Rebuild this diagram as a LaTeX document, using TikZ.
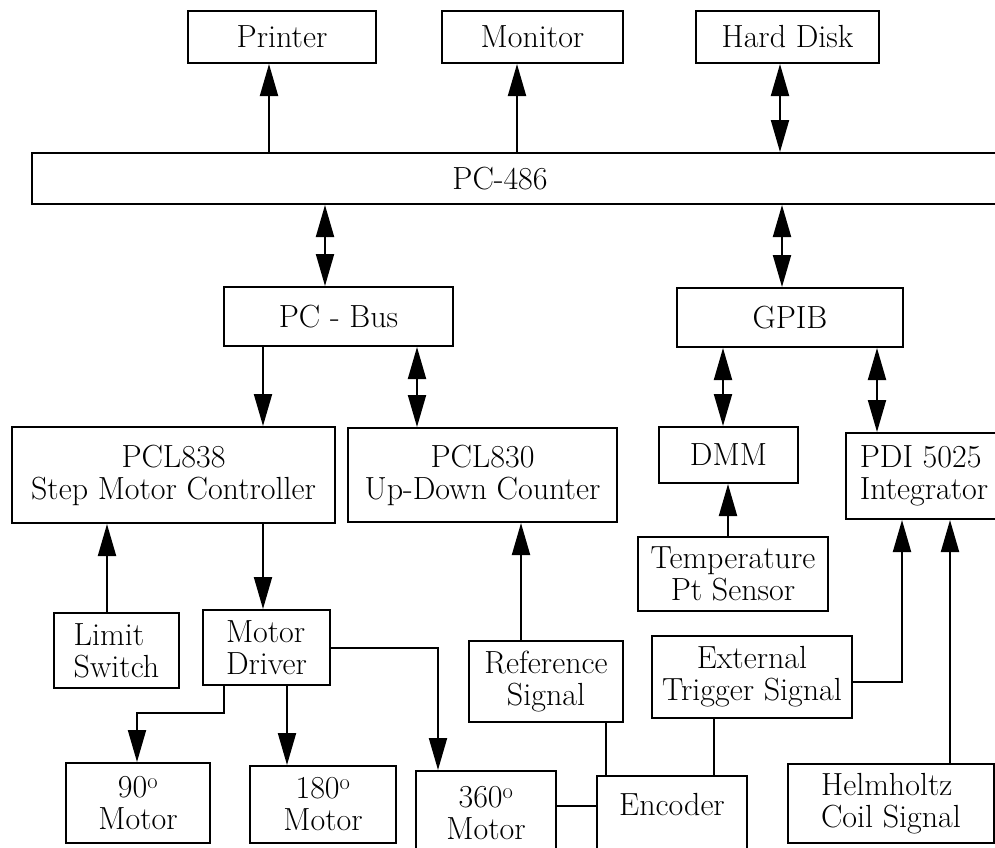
\documentclass[tikz,border=0pt]{standalone}
\usepackage{tikz}
\usetikzlibrary{arrows.meta}

\begin{document}
\begin{tikzpicture}[x=1pt, y=-1pt, line width=2pt,
    >={Triangle[length=32pt, width=18pt]},
    unit/.style={draw, inner sep=0pt, align=center,
                 font=\fontsize{32}{32}\selectfont}]
  \useasboundingbox (0,0) rectangle (995,847);
  \clip (0,0) rectangle (995,847);

  % Peripherals and host
  \node[unit, minimum width=188pt, minimum height=52pt] (printer) at (282,37) {Printer};
  \node[unit, minimum width=181pt, minimum height=52pt] (monitor) at (532.5,37) {Monitor};
  \node[unit, minimum width=183pt, minimum height=52pt] (hdisk) at (787.5,37) {Hard Disk};
  \node[unit, align=none, minimum width=978pt, minimum height=51pt] (pc) at (521,178.5)
    {\hspace*{-42pt}PC-486};

  % Buses
  \node[unit, minimum width=229pt, minimum height=59pt] (pcbus) at (338.5,316.5) {PC - Bus};
  \node[unit, minimum width=226pt, minimum height=59pt] (gpib) at (790,317.5) {GPIB};

  % Cards and instruments
  \node[unit, minimum width=323pt, minimum height=96pt] (pcl838) at (173.5,475)
    {PCL838\\Step Motor Controller};
  \node[unit, minimum width=269pt, minimum height=94pt] (pcl830) at (482.5,475)
    {PCL830\\Up-Down Counter};
  \node[unit, minimum width=139pt, minimum height=56pt] (dmm) at (728.5,455) {DMM};
  \node[unit, align=left, minimum width=156pt, minimum height=86pt] (pdi) at (924,476)
    {PDI 5025\\Integrator};
  \node[unit, minimum width=190pt, minimum height=74pt] (temp) at (733,574)
    {Temperature\\Pt Sensor};

  % Signals and drives
  \node[unit, align=left, minimum width=125pt, minimum height=75pt] (limit) at (116.5,650.5)
    {Limit\\Switch};
  \node[unit, align=left, minimum width=127pt, minimum height=75pt] (driver) at (266.5,647.5)
    {Motor\\Driver};
  \node[unit, minimum width=154pt, minimum height=81pt] (refsig) at (546,681.5)
    {Reference\\Signal};
  \node[unit, minimum width=200pt, minimum height=82pt] (trigger) at (752,677)
    {External\\Trigger Signal};

  % Motors
  \node[unit, minimum width=144pt, minimum height=80pt] (m90) at (138,803)
    {90\textsuperscript{o}\\Motor};
  \node[unit, minimum width=146pt, minimum height=77pt] (m180) at (323,804.5)
    {180\textsuperscript{o}\\Motor};
  \node[unit, anchor=north, minimum width=140pt, minimum height=84pt] (m360) at (486,770)
    {360\textsuperscript{o}\\Motor};
  \node[unit, anchor=north, minimum width=150pt, text height=39pt, text depth=50pt]
    (encoder) at (672,775) {Encoder};
  \node[unit, align=left, minimum width=206pt, minimum height=79pt] (helm) at (891,803.5)
    {Helmholtz\\Coil Signal};

  % Host links
  \draw[->] (269,0 |- pc.north) -- (269,0 |- printer.south);
  \draw[->] (517,0 |- pc.north) -- (517,0 |- monitor.south);
  \draw[<->] (780,0 |- pc.north) -- (780,0 |- hdisk.south);
  \draw[<->] (325,0 |- pc.south) -- (325,0 |- pcbus.north);
  \draw[<->] (782,0 |- pc.south) -- (782,0 |- gpib.north);

  % Bus links
  \draw[->] (263,0 |- pcbus.south) -- (263,0 |- pcl838.north);
  \draw[<->] (417,0 |- pcbus.south) -- (417,0 |- pcl830.north);
  \draw[<->] (723,0 |- gpib.south) -- (723,0 |- dmm.north);
  \draw[<->] (877,0 |- gpib.south) -- (877,0 |- pdi.north);
  \draw[->] (728,0 |- temp.north) -- (728,0 |- dmm.south);

  % Controller side
  \draw[->] (107,0 |- limit.north) -- (107,0 |- pcl838.south);
  \draw[->] (263,0 |- pcl838.south) -- (263,0 |- driver.north);
  \coordinate (k90) at (137,713);
  \draw[->] (224,0 |- driver.south) |- (k90) -- (k90 |- m90.north);
  \draw[->] (287,0 |- driver.south) -- (287,0 |- m180.north);
  \draw[->] (driver.east) -| (438,0 |- m360.north);

  % Counter and trigger side
  \draw[->] (521,0 |- refsig.north) -- (521,0 |- pcl830.south);
  \draw (606,0 |- refsig.south) -- (606,0 |- encoder.north);
  \draw (714,0 |- trigger.south) -- (714,0 |- encoder.north);
  \draw (m360.east |- 0,806) -- (encoder.west |- 0,806);
  \draw[->] (trigger.east |- 0,682) -| (902,0 |- pdi.south);
  \draw[->] (950,0 |- helm.north) -- (950,0 |- pdi.south);
\end{tikzpicture}
\end{document}
